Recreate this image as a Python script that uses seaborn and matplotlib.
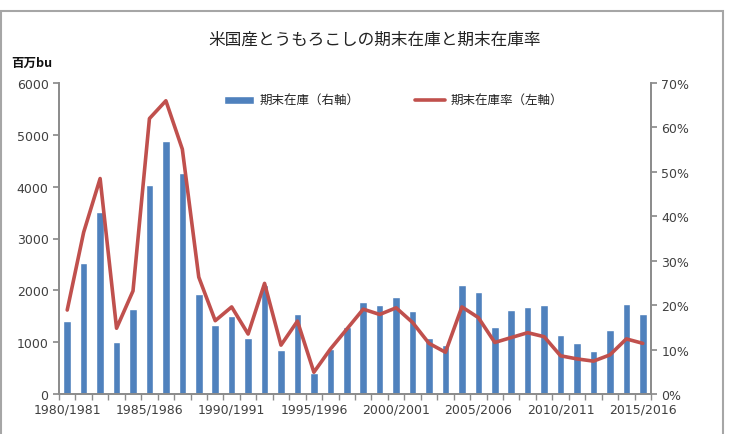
import numpy as np
import pandas as pd
import matplotlib
matplotlib.use("Agg")
import matplotlib.pyplot as plt
import seaborn as sns
from matplotlib.patches import Rectangle

# data
years = [f"{y}/{y + 1}" for y in range(1980, 2016)]
stocks = [1400, 2520, 3510, 1000, 1640, 4030, 4880, 4260, 1930, 1340,
          1510, 1090, 2100, 840, 1550, 410, 870, 1300, 1770, 1710,
          1880, 1600, 1080, 940, 2110, 1960, 1300, 1620, 1670, 1710,
          1130, 990, 820, 1230, 1730, 1550]
ratio = [18.9, 36.4, 48.5, 14.8, 23.2, 62.0, 66.0, 55.1, 26.3, 16.5,
         19.6, 13.5, 24.9, 11.0, 16.4, 4.9, 10.1, 14.6, 19.1, 17.9,
         19.4, 16.1, 11.4, 9.4, 19.6, 17.2, 11.6, 12.7, 13.8, 12.9,
         8.6, 7.9, 7.4, 8.8, 12.4, 11.4]
tick_every = 5

df = pd.DataFrame({"year": years, "stocks": stocks, "ratio": ratio})
df["pos"] = np.arange(len(df))

sns.set_theme(style="white")
plt.rcParams["font.family"] = ["DejaVu Sans", "Noto Sans CJK JP"]
jp = ["Noto Sans CJK JP", "DejaVu Sans"]
grey = "#8c8c8c"
txt = "#404040"
bar_c = "#4F81BD"
line_c = "#C0504D"

fig = plt.figure(figsize=(7.3, 4.35), dpi=100)
ax = fig.add_axes([59 / 730, 40 / 435, 592 / 730, 311 / 435])

sns.barplot(data=df, x="pos", y="stocks", color=bar_c, width=0.46,
            saturation=1, ax=ax, label="期末在庫（右軸）", native_scale=True)
ax2 = ax.twinx()
sns.lineplot(data=df, x="pos", y="ratio", color=line_c, linewidth=2.6,
             ax=ax2, label="期末在庫率（左軸）")

ax.set_xlim(-0.5, len(df) - 0.5)
ax.set_ylim(0, 6000)
ax2.set_ylim(0, 70)
ax.set_yticks(range(0, 6001, 1000))
ax2.set_yticks(range(0, 71, 10))
ax2.set_yticklabels([f"{v}%" for v in range(0, 71, 10)])
ax.set_xticks(df["pos"][::tick_every])
ax.set_xticklabels(df["year"][::tick_every])
ax.set_xticks(np.arange(-0.5, len(df), 1), minor=True)
ax.set_xlabel("")
ax.set_ylabel("")
ax2.set_ylabel("")

for a in (ax, ax2):
    for s in a.spines.values():
        s.set_color(grey)
    a.spines["top"].set_visible(False)
ax.tick_params(axis="x", which="major", length=0, labelsize=9, colors=txt, pad=6)
ax.tick_params(axis="x", which="minor", length=4, color=grey, bottom=True)
ax.tick_params(axis="y", length=4, color=grey, labelsize=9, labelcolor=txt, left=True)
ax2.tick_params(axis="y", length=4, color=grey, labelsize=9, labelcolor=txt, right=True)

h1, l1 = ax.get_legend_handles_labels()
h2, l2 = ax2.get_legend_handles_labels()
ax2.legend(h1 + h2, l1 + l2, loc="upper center", bbox_to_anchor=(0.565, 1.0),
           ncol=2, frameon=False, prop={"family": jp, "size": 9},
           columnspacing=4.5, handlelength=2.4, handletextpad=0.4,
           labelcolor="#222222")
if ax.get_legend():
    ax.get_legend().remove()

fig.text(0.513, 0.907, "米国産とうもろこしの期末在庫と期末在庫率", ha="center",
         va="center", family=jp, fontsize=12, color="#222222")
fig.text(0.016, 0.855, "百万bu", ha="left", va="center", family=jp,
         fontsize=9, fontweight="bold", color="#111111")

fig.patches.append(Rectangle((0.0015, -0.01), 0.9885, 0.982, transform=fig.transFigure,
                             fill=False, edgecolor="#a6a6a6", linewidth=1.5))

fig.savefig("out.png", dpi=100)
